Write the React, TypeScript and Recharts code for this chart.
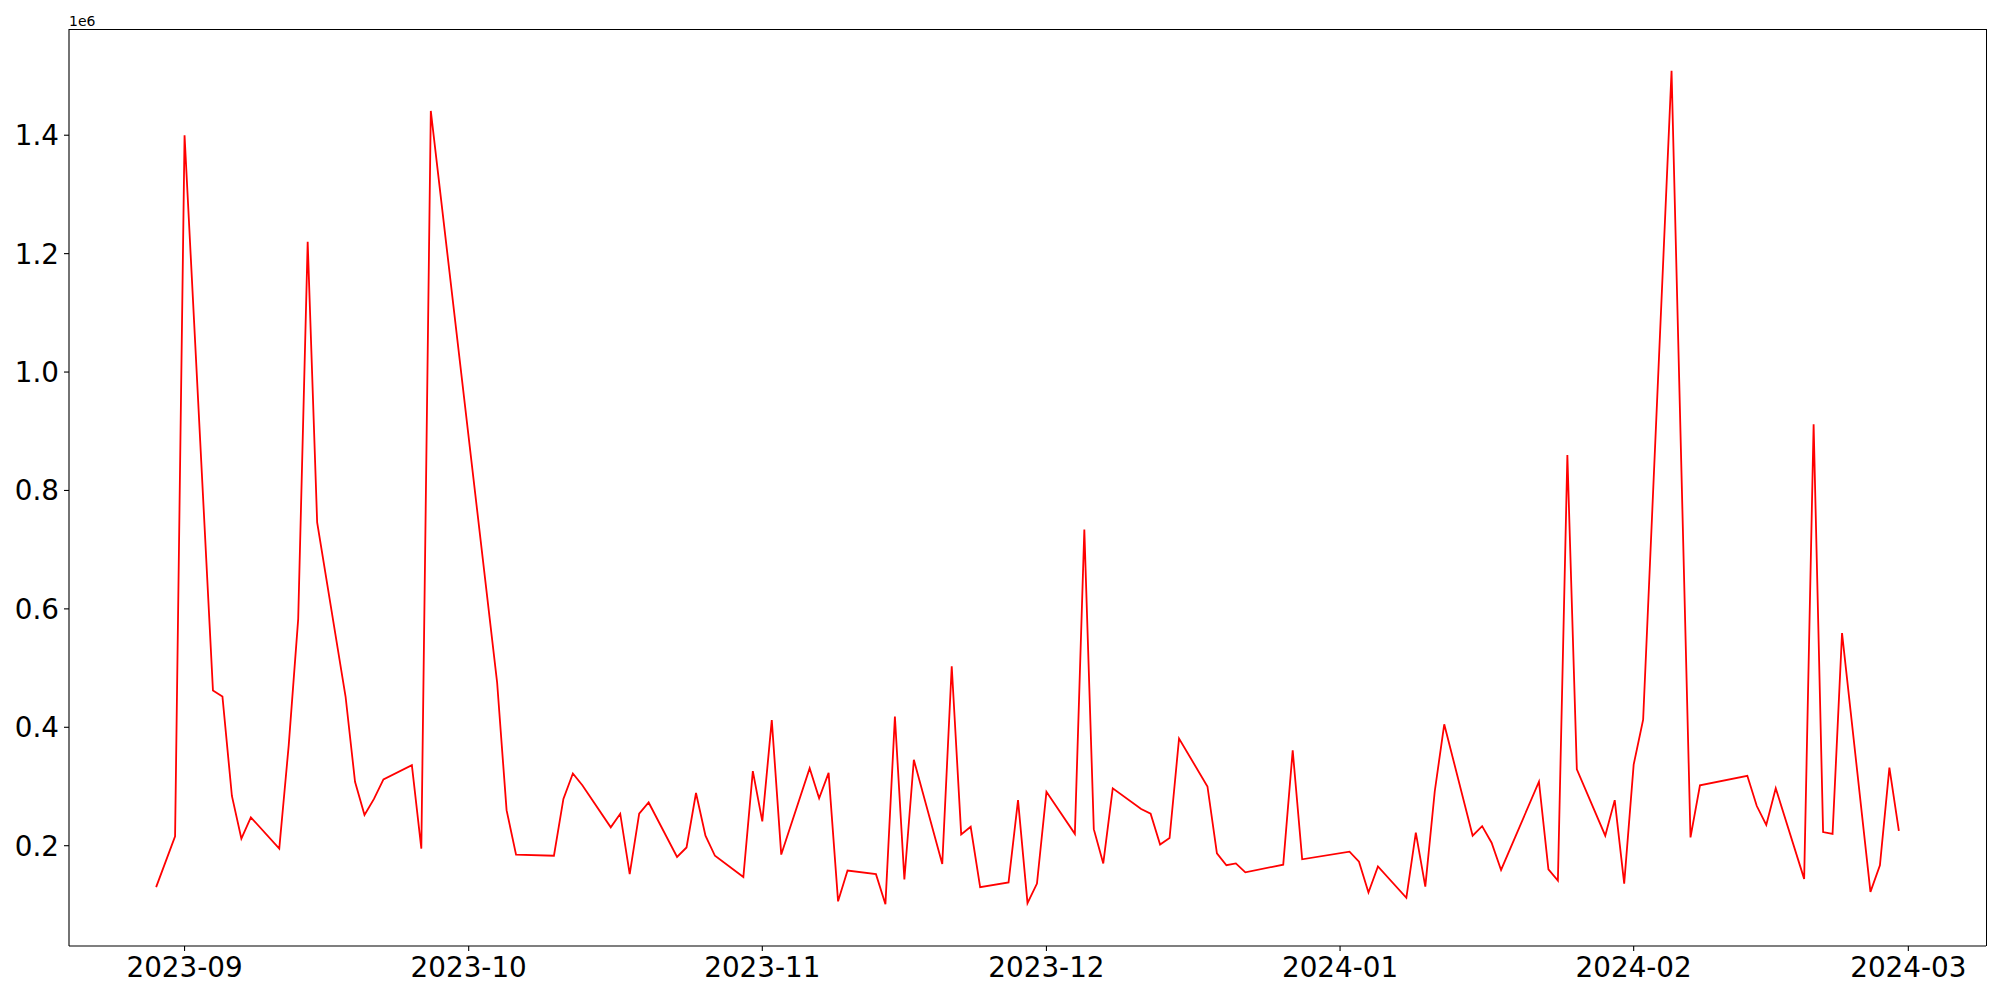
import React from 'react';
import { LineChart, Line, XAxis, YAxis } from 'recharts';

const dates = [
  '2023-08-29', '2023-08-31', '2023-09-01', '2023-09-04', '2023-09-05', '2023-09-06', '2023-09-07', '2023-09-08',
  '2023-09-11', '2023-09-12', '2023-09-13', '2023-09-14', '2023-09-15', '2023-09-18', '2023-09-19', '2023-09-20',
  '2023-09-21', '2023-09-22', '2023-09-25', '2023-09-26', '2023-09-27', '2023-10-04', '2023-10-05', '2023-10-06',
  '2023-10-10', '2023-10-11', '2023-10-12', '2023-10-13', '2023-10-16', '2023-10-17', '2023-10-18', '2023-10-19',
  '2023-10-20', '2023-10-23', '2023-10-24', '2023-10-25', '2023-10-26', '2023-10-27', '2023-10-30', '2023-10-31',
  '2023-11-01', '2023-11-02', '2023-11-03', '2023-11-06', '2023-11-07', '2023-11-08', '2023-11-09', '2023-11-10',
  '2023-11-13', '2023-11-14', '2023-11-15', '2023-11-16', '2023-11-17', '2023-11-20', '2023-11-21', '2023-11-22',
  '2023-11-23', '2023-11-24', '2023-11-27', '2023-11-28', '2023-11-29', '2023-11-30', '2023-12-01', '2023-12-04',
  '2023-12-05', '2023-12-06', '2023-12-07', '2023-12-08', '2023-12-11', '2023-12-12', '2023-12-13', '2023-12-14',
  '2023-12-15', '2023-12-18', '2023-12-19', '2023-12-20', '2023-12-21', '2023-12-22', '2023-12-26', '2023-12-27',
  '2023-12-28', '2024-01-02', '2024-01-03', '2024-01-04', '2024-01-05', '2024-01-08', '2024-01-09', '2024-01-10',
  '2024-01-11', '2024-01-12', '2024-01-15', '2024-01-16', '2024-01-17', '2024-01-18', '2024-01-22', '2024-01-23',
  '2024-01-24', '2024-01-25', '2024-01-26', '2024-01-29', '2024-01-30', '2024-01-31', '2024-02-01', '2024-02-02',
  '2024-02-05', '2024-02-07', '2024-02-08', '2024-02-13', '2024-02-14', '2024-02-15', '2024-02-16', '2024-02-19',
  '2024-02-20', '2024-02-21', '2024-02-22', '2024-02-23', '2024-02-26', '2024-02-27', '2024-02-28', '2024-02-29',
];

const values = [
  130000, 216000, 1400000, 462000, 452000, 284000, 212000, 248000,
  195000, 370000, 583000, 1220000, 746000, 452000, 308000, 252000,
  279000, 312000, 336000, 195000, 1441000, 476000, 260000, 185000,
  183000, 279000, 322000, 302000, 231000, 254000, 152000, 254000,
  273000, 181000, 197000, 289000, 217000, 183000, 147000, 326000,
  241000, 412000, 185000, 331000, 280000, 323000, 106000, 158000,
  152000, 101000, 418000, 143000, 345000, 169000, 503000, 219000,
  232000, 130000, 138000, 277000, 103000, 136000, 291000, 220000,
  734000, 228000, 170000, 297000, 262000, 254000, 202000, 213000,
  381000, 300000, 187000, 167000, 170000, 155000, 168000, 361000,
  177000, 190000, 173000, 121000, 165000, 112000, 222000, 131000,
  292000, 405000, 217000, 233000, 205000, 159000, 308000, 160000,
  141000, 860000, 329000, 217000, 277000, 136000, 337000, 413000,
  1509000, 214000, 302000, 318000, 267000, 235000, 297000, 144000,
  912000, 223000, 220000, 559000, 122000, 167000, 332000, 225000,
];

const monthTicks = ['2023-09-01', '2023-10-01', '2023-11-01', '2023-12-01', '2024-01-01', '2024-02-01', '2024-03-01'];
const yTicks = [200000, 400000, 600000, 800000, 1000000, 1200000, 1400000];

const data = dates.map((d, i) => ({ t: Date.parse(d), v: values[i] }));

// matplotlib-style 5% margins
const tMin = data[0].t;
const tMax = data[data.length - 1].t;
const tPad = (tMax - tMin) * 0.05;
const vMin = Math.min(...values);
const vMax = Math.max(...values);
const vPad = (vMax - vMin) * 0.05;

const W = 2000;
const H = 1000;
const margin = { top: 29, right: 14, left: 0, bottom: 0 };
const yAxisWidth = 69;
const xAxisHeight = 54;

const font = '"DejaVu Sans", sans-serif';
const tickStyle = { fill: '#000', fontSize: 27.8, fontFamily: font };

export default function App() {
  return (
    <div style={{ position: 'absolute', left: 0, top: 0, width: W, height: H, background: '#fff' }}>
      <div
        style={{
          position: 'absolute',
          left: yAxisWidth,
          top: 14,
          fontSize: 14,
          lineHeight: '14px',
          fontFamily: font,
          color: '#000',
        }}
      >
        1e6
      </div>
      {/* top and right spines */}
      <div
        style={{
          position: 'absolute',
          left: yAxisWidth,
          top: margin.top - 0.5,
          width: W - yAxisWidth - margin.right + 0.5,
          height: H - margin.top - xAxisHeight,
          borderTop: '1.1px solid #000',
          borderRight: '1.1px solid #000',
          boxSizing: 'border-box',
          pointerEvents: 'none',
        }}
      />
      <LineChart width={W} height={H} data={data} margin={margin}>
        <XAxis
          dataKey="t"
          type="number"
          domain={[tMin - tPad, tMax + tPad]}
          ticks={monthTicks.map((m) => Date.parse(m))}
          tickFormatter={(t: number) => new Date(t).toISOString().slice(0, 7)}
          interval={0}
          allowDataOverflow
          height={xAxisHeight}
          tick={tickStyle}
          tickSize={5}
          tickMargin={6}
          axisLine={{ stroke: '#000', strokeWidth: 1.1 }}
          tickLine={{ stroke: '#000', strokeWidth: 1.1 }}
        />
        <YAxis
          type="number"
          domain={[vMin - vPad, vMax + vPad]}
          ticks={yTicks}
          tickFormatter={(v: number) => (v / 1e6).toFixed(1)}
          interval={0}
          allowDataOverflow
          width={yAxisWidth}
          tick={tickStyle}
          tickSize={5}
          tickMargin={5}
          axisLine={{ stroke: '#000', strokeWidth: 1.1 }}
          tickLine={{ stroke: '#000', strokeWidth: 1.1 }}
        />
        <Line
          type="linear"
          dataKey="v"
          stroke="#ff0000"
          strokeWidth={1.8}
          dot={false}
          isAnimationActive={false}
        />
      </LineChart>
    </div>
  );
}
